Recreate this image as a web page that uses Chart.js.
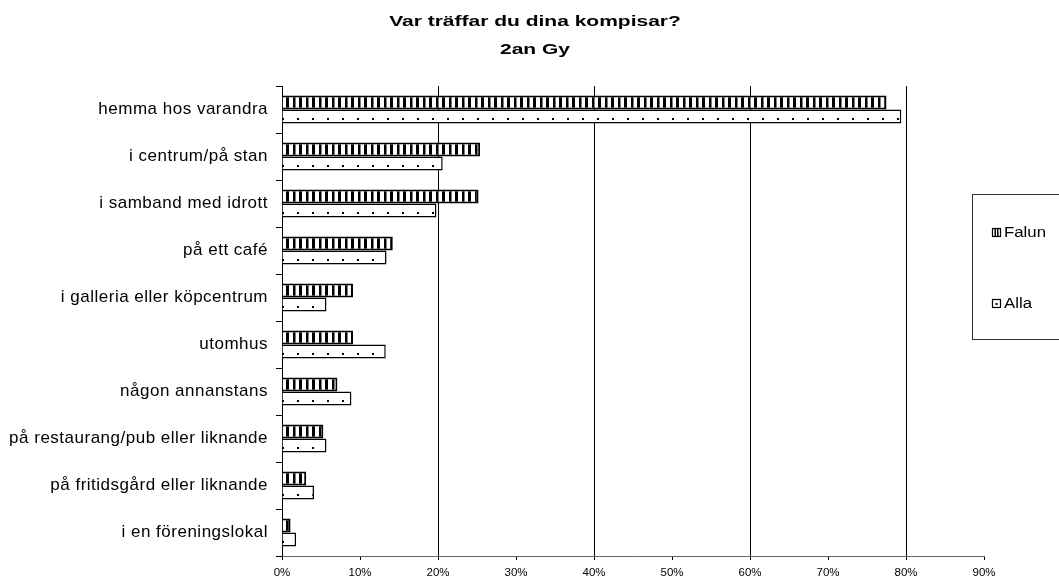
<!DOCTYPE html>
<html>
<head>
<meta charset="utf-8">
<script src="https://cdn.jsdelivr.net/npm/chart.js@4.4.1/dist/chart.umd.min.js"></script>
<style>
  html, body { margin: 0; padding: 0; background: #fff; }
</style>
</head>
<body>
<canvas id="chart" width="1059" height="581"></canvas>
<script>
// --- DATA (in percent) ---
const categories = [
  'hemma hos varandra',
  'i centrum/på stan',
  'i samband med idrott',
  'på ett café',
  'i galleria eller köpcentrum',
  'utomhus',
  'någon annanstans',
  'på restaurang/pub eller liknande',
  'på fritidsgård eller liknande',
  'i en föreningslokal'
];
const falunValues = [77.5, 25.4, 25.2, 14.2, 9.1, 9.1, 7.1, 5.3, 3.1, 1.1];
const allaValues  = [79.4, 20.6, 19.8, 13.4, 5.7, 13.3, 8.9, 5.7, 4.1, 1.8];
const seriesNames = ['Falun', 'Alla'];
const titleLines = ['Var träffar du dina kompisar?', '2an Gy'];
const xMax = 90;
const xStep = 10;
const gridValues = [20, 40, 60, 80];

const FONT = "'Liberation Sans', Arial, Helvetica, sans-serif";
Chart.defaults.font.family = FONT;
Chart.defaults.color = '#000';

const canvas = document.getElementById('chart');
const mainCtx = canvas.getContext('2d');

// --- PATTERNS ---
// vertical stripes for Falun
function makeStripes() {
  const t = document.createElement('canvas');
  t.width = 13; t.height = 8;
  const g = t.getContext('2d');
  g.fillStyle = '#fff'; g.fillRect(0, 0, 13, 8);
  g.fillStyle = '#000';
  g.fillRect(0, 0, 3, 8);
  g.fillRect(7, 0, 2.5, 8);
  return mainCtx.createPattern(t, 'repeat');
}
// sparse dots for Alla (one row per bar)
function makeDots() {
  const t = document.createElement('canvas');
  t.width = 15; t.height = 47;
  const g = t.getContext('2d');
  g.fillStyle = '#fff'; g.fillRect(0, 0, 15, 47);
  g.fillStyle = '#000';
  g.fillRect(12, 24, 2, 2);
  return mainCtx.createPattern(t, 'repeat');
}

function stretchedText(ctx, text, x, y, sx, align) {
  ctx.save();
  ctx.translate(x, y);
  ctx.scale(sx, 1);
  ctx.textAlign = align;
  ctx.fillText(text, 0, 0);
  ctx.restore();
}

// y labels get a little letter spacing (drawn after datasets, see ticks.z)
const spacingPlugin = {
  id: 'spacing',
  beforeDraw(chart) { chart.ctx.letterSpacing = '0px'; },
  beforeDatasetsDraw(chart) { chart.ctx.letterSpacing = '0.5px'; },
  afterDraw(chart) { chart.ctx.letterSpacing = '0px'; }
};

// title + boxed legend like the original sheet
const decorPlugin = {
  id: 'decor',
  afterDraw(chart) {
    const ctx = chart.ctx;
    ctx.save();
    ctx.fillStyle = '#000';
    ctx.textBaseline = 'alphabetic';
    ctx.font = 'bold 15px ' + FONT;
    stretchedText(ctx, titleLines[0], 535, 26, 1.4, 'center');
    stretchedText(ctx, titleLines[1], 535, 54, 1.4, 'center');

    // legend box
    ctx.strokeStyle = '#333';
    ctx.lineWidth = 1;
    ctx.strokeRect(972.5, 194.5, 100, 145);

    const ys = [232, 303];
    ctx.font = '14px ' + FONT;
    ctx.textBaseline = 'middle';
    ys.forEach((y, i) => {
      const x0 = 992, s = 8;
      ctx.fillStyle = '#fff';
      ctx.fillRect(x0, y - s / 2, s, s);
      ctx.strokeStyle = '#000';
      ctx.lineWidth = 1.2;
      ctx.strokeRect(x0 + 0.5, y - s / 2 + 0.5, s, s);
      ctx.fillStyle = '#000';
      if (i === 0) {
        ctx.fillRect(x0 + 2.5, y - s / 2, 1.5, s);
        ctx.fillRect(x0 + 5, y - s / 2, 1.5, s);
      } else {
        ctx.fillRect(x0 + 3.5, y, 2, 2);
      }
      stretchedText(ctx, seriesNames[i], 1004, y + 1, 1.2, 'left');
    });
    ctx.restore();
  }
};

new Chart(mainCtx, {
  type: 'bar',
  data: {
    labels: categories,
    datasets: [
      {
        label: seriesNames[0],
        data: falunValues,
        backgroundColor: makeStripes(),
        borderColor: '#000',
        borderWidth: 2
      },
      {
        label: seriesNames[1],
        data: allaValues,
        backgroundColor: makeDots(),
        borderColor: '#000',
        borderWidth: 1.5
      }
    ]
  },
  options: {
    indexAxis: 'y',
    responsive: false,
    devicePixelRatio: 1,
    animation: false,
    layout: { padding: { top: 86, right: 75, bottom: 0, left: 0 } },
    datasets: { bar: { categoryPercentage: 0.6, barPercentage: 1.0 } },
    plugins: {
      legend: { display: false },
      title: { display: false },
      tooltip: { enabled: false }
    },
    scales: {
      x: {
        min: 0,
        max: xMax,
        afterFit: s => { s.height = 25; },
        ticks: {
          stepSize: xStep,
          maxRotation: 0,
          autoSkip: false,
          padding: 6,
          font: { size: 11.5 },
          color: '#000',
          callback: v => v + '%'
        },
        grid: {
          color: c => (c.tick && gridValues.includes(c.tick.value)) ? '#000' : 'rgba(0,0,0,0)',
          lineWidth: 1,
          drawTicks: true,
          tickLength: 4,
          tickColor: '#000'
        },
        border: { display: true, color: '#666', width: 1 }
      },
      y: {
        afterFit: s => { s.width = 282; },
        ticks: {
          autoSkip: false,
          padding: 8,
          z: 1,
          font: { size: 17 },
          color: '#000'
        },
        grid: {
          offset: true,
          drawOnChartArea: false,
          drawTicks: true,
          tickLength: 6,
          color: '#000'
        },
        border: { display: true, color: '#000', width: 1 }
      }
    }
  },
  plugins: [spacingPlugin, decorPlugin]
});
</script>
</body>
</html>
